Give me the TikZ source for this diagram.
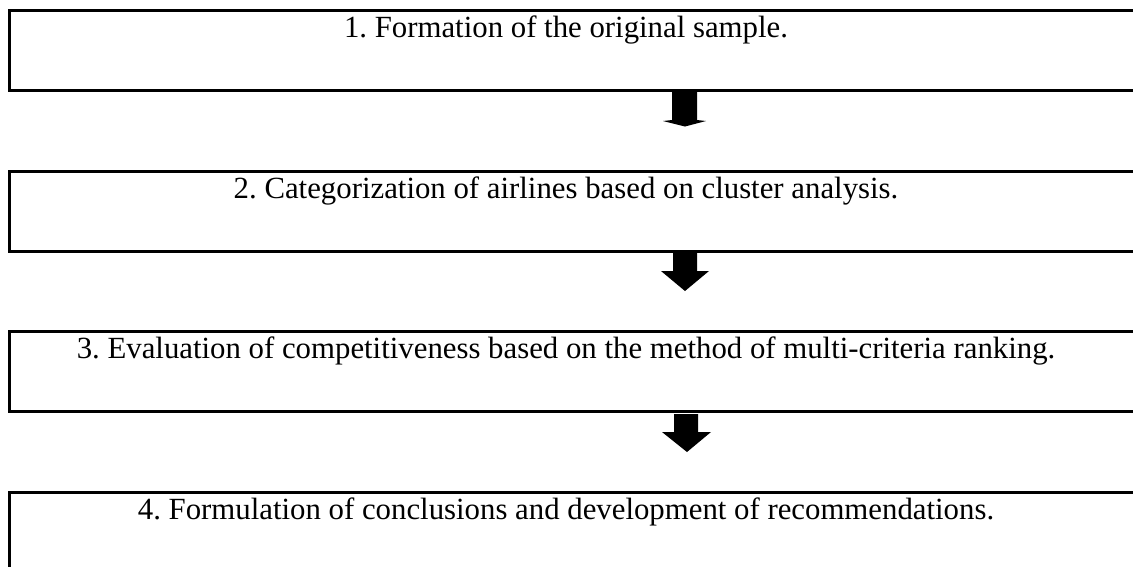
\documentclass[tikz,border=0pt]{standalone}
\usepackage{fontspec}
\setmainfont{Liberation Serif}
\usetikzlibrary{calc}
\frenchspacing
\begin{document}
\begin{tikzpicture}[x=1pt,y=1pt,
  box/.style={draw=black, line width=3pt, rectangle, anchor=north west,
    minimum width=1140pt, minimum height=80pt, inner sep=0pt, outer sep=0pt},
  lbl/.style={anchor=base, inner sep=0pt, font=\fontsize{30.8}{36}\selectfont},
  blockarrow/.style={fill=black, draw=none}]
\useasboundingbox (0,0) rectangle (1133,-566);
\clip (0,0) rectangle (1133,-566);
\fill[white] (0,0) rectangle (1133,-566);
% boxes
\node[box] (b1) at (9,-10) {};
\node[box] (b2) at (9,-171) {};
\node[box] (b3) at (9,-331) {};
\node[box] (b4) at (9,-492) {};
% labels
\node[lbl] (t1) at (566,-37) {\frenchspacing 1. Formation of the original sample.};
\node[lbl] (t2) at (566,-198) {\frenchspacing 2. Categorization of airlines based on cluster analysis.};
\node[lbl] (t3) at (566,-358) {\frenchspacing 3. Evaluation of competitiveness based on the method of multi-criteria ranking.};
\node[lbl] (t4) at (566,-519) {\frenchspacing 4. Formulation of conclusions and development of recommendations.};
% arrows
\fill[blockarrow] (672,-92) -- (697,-92) -- (697,-120) -- (706,-121) -- (685,-126.5) -- (663,-121) -- (672,-120) -- cycle;
\fill[blockarrow] (673,-252) -- (697,-252) -- (697,-271) -- (709,-271) -- (685,-291) -- (661,-271) -- (673,-271) -- cycle;
\fill[blockarrow] (674,-414) -- (698,-414) -- (698,-432) -- (711,-432) -- (687,-452) -- (662,-432) -- (674,-432) -- cycle;
\end{tikzpicture}
\end{document}
